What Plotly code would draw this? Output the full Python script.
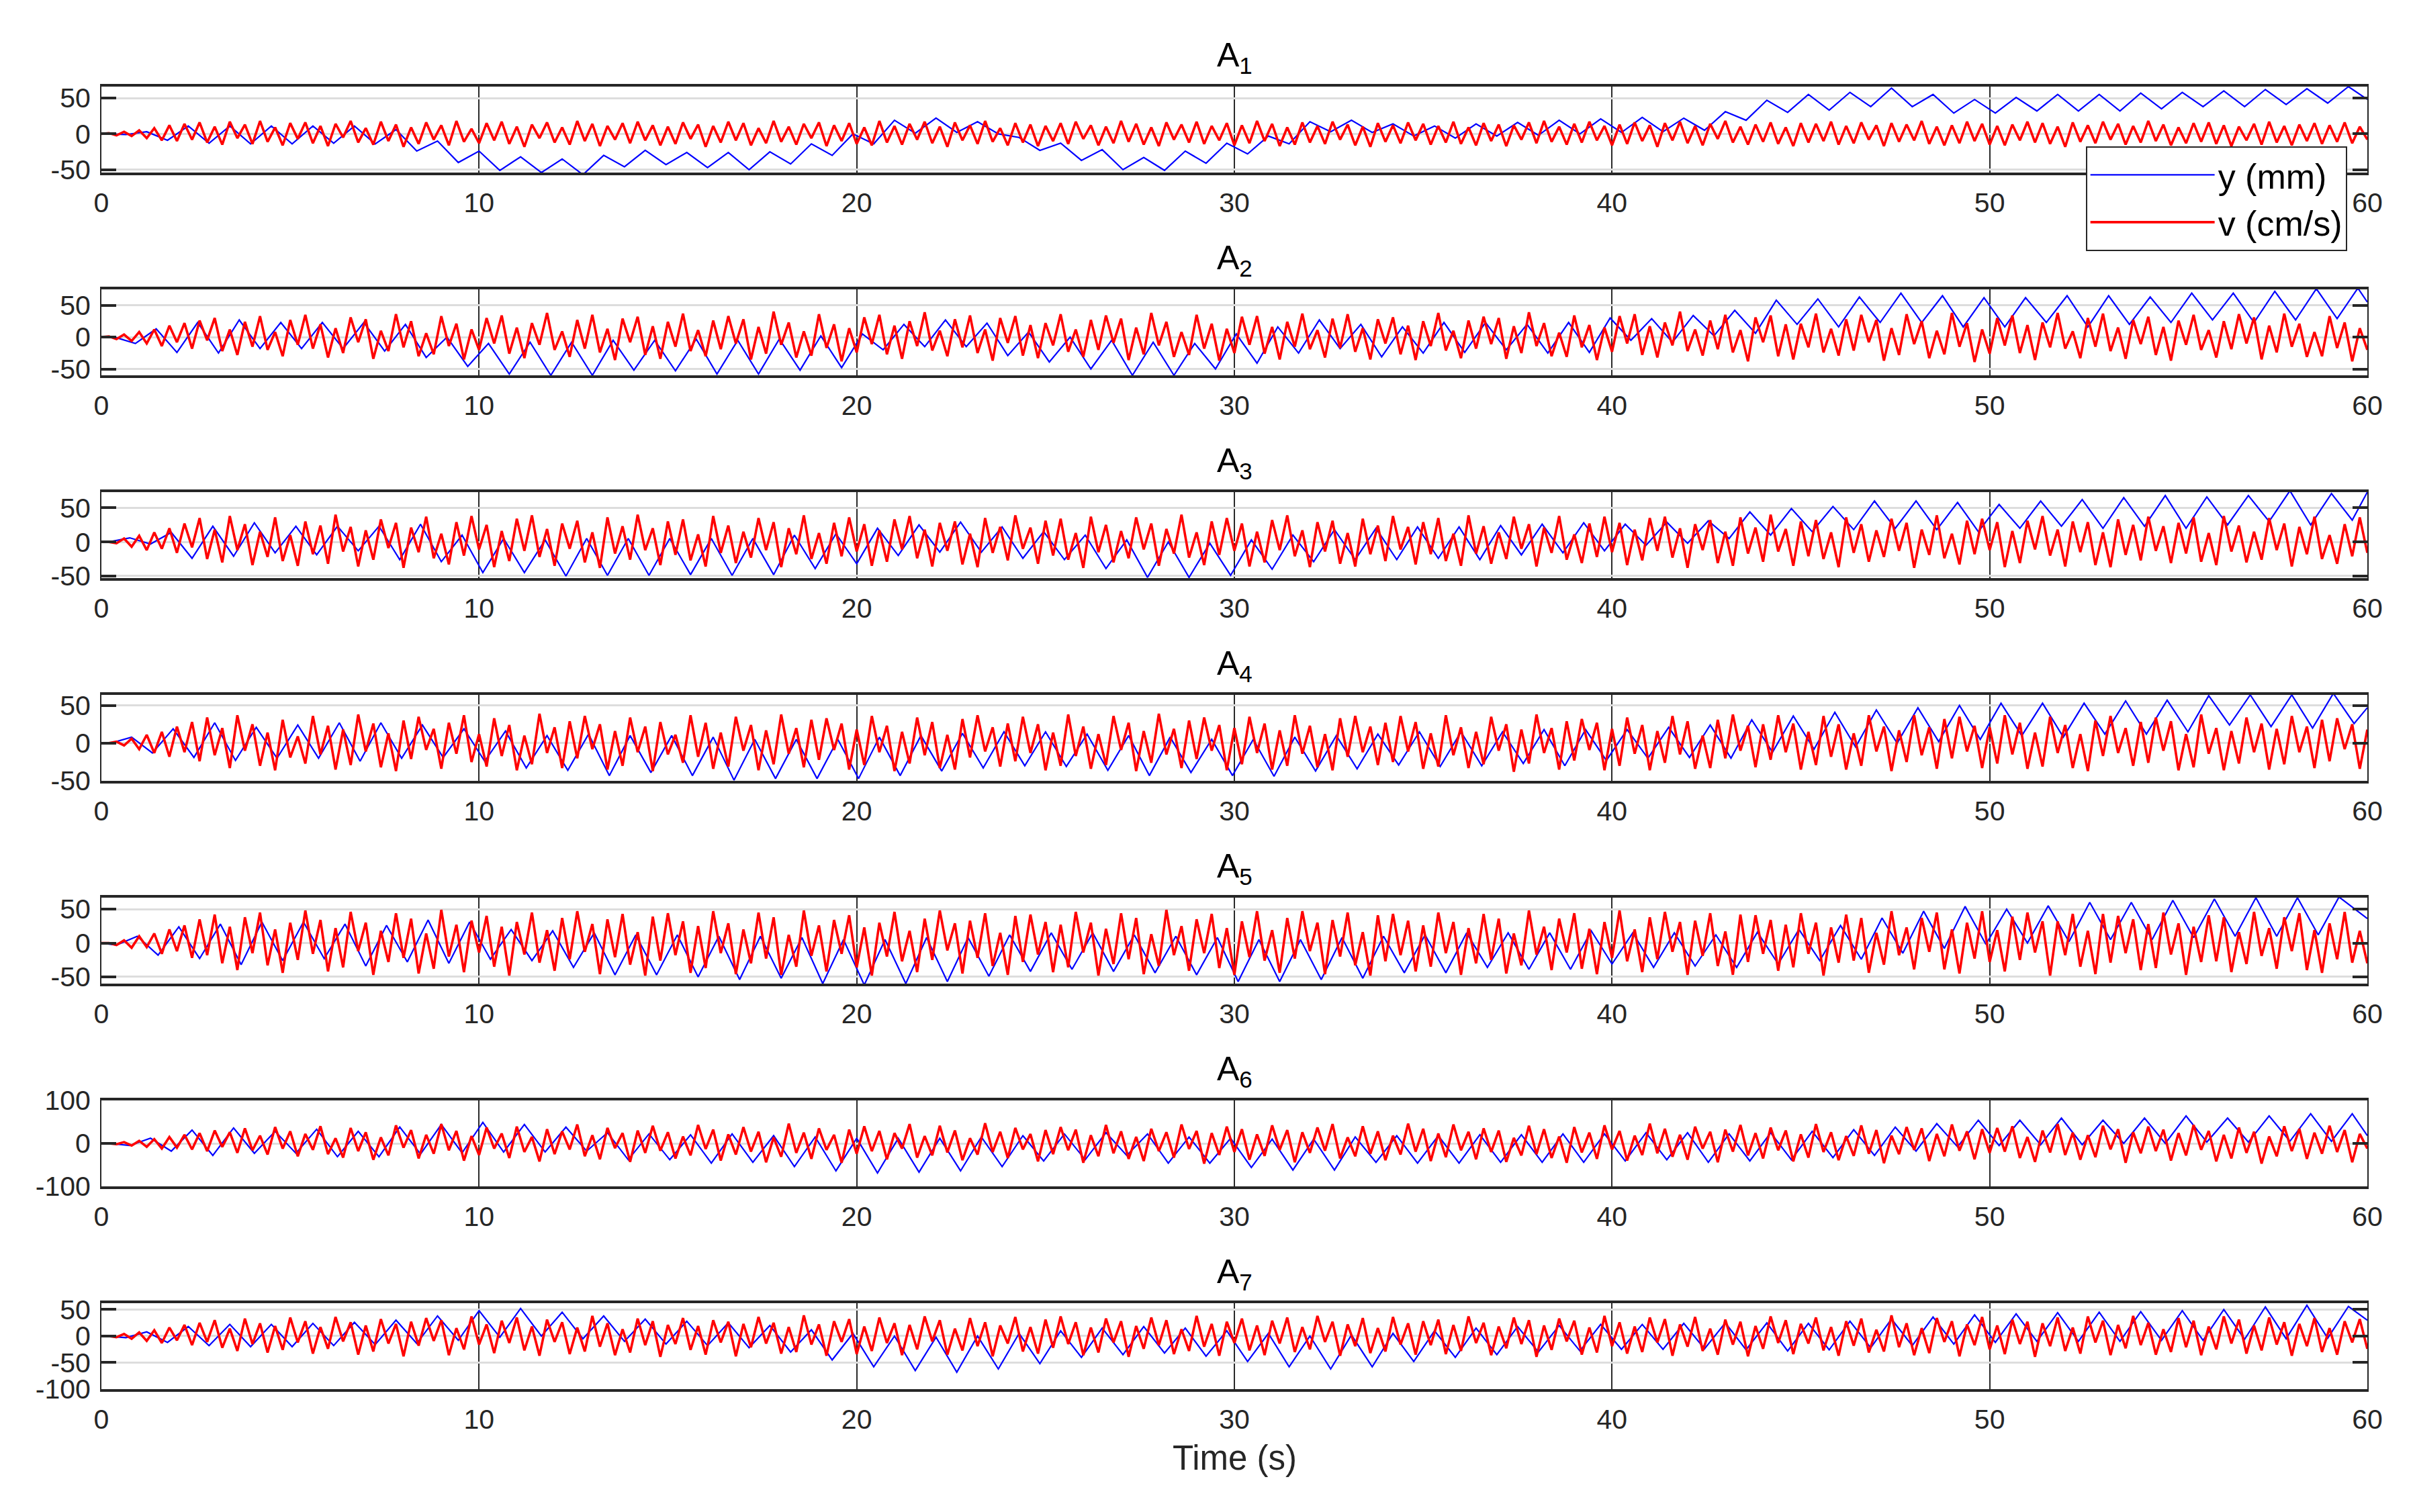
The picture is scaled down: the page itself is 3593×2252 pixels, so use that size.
import plotly.graph_objects as go

# ---------------- DATA ----------------
# Time grid
X_TICKS = [0, 10, 20, 30, 40, 50, 60]
Y_STEP = 0.55      # spacing between successive extrema of y (s)
V_DT = 0.2         # sampling step of v (s)

# y (mm): successive extrema, starting at time Y_T0
A1_Y_T0 = 0.10
A1_Y = [0, -1, 3, -9, 11, -13, 11, -14, 11, -14,
        11, -13, 11, -14, 6, -24, -10, -40, -24, -51,
        -32, -54, -35, -57, -30, -46, -23, -43, -26, -47,
        -26, -50, -25, -42, -14, -30, 0, -14, 19, 1,
        22, 2, 17, 0, -5, -23, -13, -37, -22, -50,
        -33, -51, -24, -41, -13, -28, -3, -14, 17, 3,
        19, 2, 14, -3, 11, -6, 14, -3, 16, -2,
        19, 0, 21, 2, 23, 3, 22, 5, 31, 19,
        47, 30, 55, 33, 58, 38, 64, 38, 55, 29,
        48, 29, 51, 32, 55, 32, 55, 32, 57, 35,
        58, 38, 60, 38, 62, 41, 63, 43, 66]
A1_Y_END = 48

A2_Y_T0 = 0.35
A2_Y = [0, -10, 13, -24, 23, -25, 27, -18, 23, -18,
        23, -18, 23, -22, 20, -32, 0, -46, -10, -58,
        -8, -60, -8, -60, -5, -52, -5, -53, -3, -58,
        -5, -58, -3, -52, 2, -48, 5, -20, 20, -15,
        27, -15, 22, -29, 8, -39, 0, -50, -5, -60,
        -8, -60, -10, -50, 5, -41, 16, -25, 27, -18,
        20, -31, 16, -25, 23, -24, 23, -20, 20, -25,
        23, -24, 30, -5, 29, -8, 34, 2, 42, 6,
        58, 20, 60, 16, 63, 23, 69, 23, 65, 16,
        62, 16, 62, 23, 65, 16, 65, 20, 63, 23,
        69, 27, 69, 23, 72, 27, 76, 29, 77]
A2_Y_END = 55

A3_Y_T0 = 0.20
A3_Y = [0, 6, -3, 14, -24, 23, -21, 28, -16, 23,
        -19, 23, -13, 23, -26, 26, -29, 10, -45, 5,
        -45, 3, -50, 5, -49, 5, -49, 5, -48, 5,
        -49, 5, -48, 10, -39, 12, -32, 20, -20, 25,
        -15, 29, -15, 22, -24, 15, -26, 10, -39, 3,
        -52, 0, -52, -2, -49, 3, -40, 10, -29, 18,
        -26, 20, -26, 22, -24, 22, -26, 24, -19, 26,
        -16, 28, -13, 26, -5, 29, -2, 31, 5, 44,
        10, 49, 15, 52, 18, 60, 20, 60, 18, 58,
        15, 55, 20, 60, 23, 62, 20, 65, 23, 68,
        20, 66, 25, 68, 30, 75, 25, 71, 32]
A3_Y_END = 73

A4_Y_T0 = 0.25
A4_Y = [0, 8, -13, 19, -19, 27, -23, 21, -20, 24,
        -20, 27, -24, 27, -20, 24, -19, 19, -24, 16,
        -33, 10, -36, 12, -43, 10, -39, 10, -43, 8,
        -49, 5, -47, 5, -47, 5, -47, 8, -43, 10,
        -37, 13, -33, 15, -30, 15, -31, 12, -36, 10,
        -43, 8, -39, 5, -43, 5, -44, 8, -37, 10,
        -34, 12, -29, 15, -31, 15, -30, 15, -27, 18,
        -30, 18, -23, 18, -20, 21, -19, 24, -20, 31,
        -12, 36, -8, 41, -5, 44, 0, 47, 2, 50,
        5, 53, 10, 53, 8, 53, 12, 56, 12, 57,
        15, 63, 24, 64, 22, 64, 20, 66, 26]
A4_Y_END = 47

A5_Y_T0 = 0.40
A5_Y = [-3, 10, -18, 24, -23, 28, -32, 31, -26, 31,
        -23, 28, -34, 26, -28, 34, -30, 31, -24, 20,
        -26, 18, -36, 15, -47, 12, -47, 12, -50, 10,
        -54, 10, -52, 8, -60, 5, -62, 5, -60, 8,
        -57, 8, -49, 12, -42, 15, -39, 15, -42, 12,
        -44, 10, -47, 8, -57, 5, -57, 5, -54, 8,
        -52, 10, -44, 12, -44, 15, -36, 15, -39, 15,
        -39, 18, -31, 15, -36, 15, -34, 12, -36, 16,
        -31, 20, -26, 26, -24, 37, -15, 47, -8, 54,
        -2, 50, 0, 55, 2, 60, 5, 60, 5, 63,
        8, 65, 10, 67, 10, 67, 12, 68]
A5_Y_END = 36

A6_Y_T0 = 0.20
A6_Y = [0, -5, 12, -18, 31, -28, 36, -23, 28, -23,
        33, -31, 28, -31, 38, -25, 44, -22, 49, -20,
        44, -20, 38, -18, 25, -38, 22, -38, 20, -46,
        22, -44, 18, -54, 15, -64, 12, -69, 12, -67,
        12, -64, 15, -54, 18, -41, 22, -38, 25, -28,
        22, -46, 15, -46, 12, -56, 10, -62, 10, -62,
        15, -44, 18, -46, 18, -46, 20, -44, 20, -44,
        22, -44, 22, -41, 25, -38, 25, -44, 22, -41,
        25, -38, 28, -33, 32, -28, 38, -18, 46, -8,
        54, -5, 54, -3, 59, -3, 54, 0, 59, 0,
        64, 3, 59, 3, 64, 5, 69, 5, 69]
A6_Y_END = 18

A7_Y_T0 = 0.10
A7_Y = [0, -3, 8, -12, 18, -18, 22, -20, 22, -20,
        24, -18, 26, -16, 30, -14, 38, -8, 48, -2,
        52, 0, 45, -5, 38, -10, 32, -15, 28, -18,
        25, -22, 20, -30, 12, -45, 5, -58, 0, -65,
        -2, -68, 0, -62, 5, -52, 10, -40, 15, -35,
        18, -32, 15, -38, 10, -48, 5, -58, 0, -62,
        2, -58, 5, -48, 10, -40, 15, -35, 18, -30,
        20, -28, 22, -25, 22, -25, 24, -24, 25, -26,
        25, -28, 24, -26, 28, -22, 32, -18, 36, -15,
        40, -12, 42, -10, 44, -10, 45, -10, 46, -8,
        48, -8, 50, -6, 55, -5, 58, -4, 56]
A7_Y_END = 30

# v (cm/s): samples every V_DT seconds from 0.2 s to 60 s
A1_V = [1, -2, 3, -3, 5, -6, 8, -9, 12, -10, 14, -8, 16, -12, 10, -15, 17, -6, 13, -14, 18, -11, 9, -16, 15,
        -7, 16, -13, 11, -17, 14, -5, 18, -12, 8, -15, 17, -10, 13, -18, 9, -14, 16, -8, 12, -16, 18, -11, 7, -13,
        15, -9, 17, -14, 10, -18, 13, -6, 16, -12, 9, -15, 18, -10, 14, -17, 11, -8, 15, -13, 17, -9, 12, -16, 10,
        -14, 16, -7, 13, -18, 11, -12, 17, -9, 15, -16, 8, -13, 18, -11, 10, -15, 14, -6, 16, -17, 12, -10, 15, -14,
        9, -16, 18, -12, 11, -15, 14, -8, 17, -13, 10, -18, 16, -9, 12, -14, 18, -11, 8, -16, 15, -12, 13, -17, 11,
        -10, 15, -14, 17, -7, 12, -16, 10, -13, 18, -11, 14, -15, 9, -17, 16, -8, 13, -12, 17, -14, 11, -9, 15, -16,
        12, -13, 18, -10, 14, -17, 9, -15, 16, -12, 11, -14, 17, -8, 13, -16, 10, -18, 15, -11, 12, -13, 16, -9, 14,
        -15, 11, -12, 17, -14, 9, -16, 15, -10, 13, -17, 12, -8, 16, -13, 18, -11, 10, -15, 14, -12, 17, -9, 11, -16,
        13, -14, 16, -10, 12, -18, 15, -9, 17, -13, 11, -16, 14, -7, 18, -12, 10, -15, 13, -11, 16, -14, 9, -17, 15,
        -12, 14, -10, 17, -15, 11, -13, 16, -8, 12, -17, 15, -11, 13, -9, 18, -14, 10, -16, 12, -13, 17, -10, 14, -15,
        11, -16, 13, -9, 17, -12, 15, -14, 10, -18, 16, -11, 12, -13, 17, -8, 14, -15, 11, -12, 18, -10, 13, -16, 9,
        -13, 15, -11, 16, -14, 12, -17, 10, -9, 14, -15, 17, -12, 11, -16, 13, -10, 15, -14, 12, -11, 16, -13, 10, -8]

A2_V = [1, -3, 4, -6, 8, -10, 12, -14, 18, -8, 22, -18, 26, -5, 30, -22, 12, -28, 24, -15, 33, -20, 8, -30, 27,
        -12, 35, -18, 20, -32, 14, -25, 31, -8, 28, -34, 10, -22, 36, -16, 25, -30, 6, -27, 33, -14, 21, -35, 12, -20,
        30, -10, 34, -26, 15, -33, 22, -12, 38, -20, 9, -31, 27, -18, 35, -24, 13, -36, 29, -8, 32, -28, 17, -34, 24,
        -15, 37, -22, 11, -30, 26, -19, 33, -10, 28, -35, 16, -26, 40, -12, 23, -32, 9, -29, 36, -17, 20, -38, 14, -24,
        31, -11, 35, -27, 18, -34, 25, -14, 39, -21, 10, -30, 28, -16, 34, -25, 12, -37, 30, -9, 33, -29, 19, -33, 22,
        -13, 36, -23, 12, -31, 27, -20, 34, -9, 29, -36, 15, -27, 38, -13, 24, -31, 8, -28, 35, -18, 21, -37, 13, -25,
        32, -12, 33, -26, 16, -35, 24, -15, 37, -19, 11, -32, 29, -17, 36, -23, 14, -35, 28, -10, 31, -27, 18, -36, 25,
        -14, 38, -21, 10, -33, 26, -18, 32, -11, 30, -34, 17, -25, 39, -14, 22, -30, 7, -31, 34, -16, 19, -36, 15, -23,
        33, -10, 36, -28, 17, -32, 23, -13, 40, -22, 12, -29, 26, -19, 35, -24, 11, -38, 31, -8, 34, -30, 20, -35, 21,
        -16, 37, -24, 13, -29, 28, -21, 35, -8, 27, -37, 14, -28, 36, -11, 25, -33, 10, -27, 38, -15, 22, -39, 12, -26,
        30, -13, 34, -25, 19, -36, 23, -16, 38, -18, 9, -33, 30, -15, 37, -22, 15, -34, 27, -11, 32, -28, 16, -37, 26,
        -12, 35, -20, 11, -32, 25, -19, 36, -10, 31, -35, 18, -24, 37, -15, 21, -31, 8, -30, 33, -17, 23, -38, 14, -20]

A3_V = [0, -2, 5, -7, 9, -12, 14, -10, 20, -16, 27, -8, 35, -25, 18, -30, 38, -12, 26, -34, 15, -22, 36, -28, 10,
        -35, 30, -18, 24, -32, 40, -14, 22, -36, 17, -26, 33, -9, 28, -38, 21, -15, 37, -24, 12, -33, 29, -20, 38, -11,
        25, -37, 16, -28, 34, -13, 39, -22, 19, -35, 27, -10, 31, -30, 14, -38, 36, -17, 23, -26, 40, -12, 20, -34, 30,
        -19, 33, -27, 11, -36, 38, -16, 24, -31, 15, -23, 35, -12, 29, -37, 20, -18, 39, -25, 13, -32, 28, -21, 36, -14,
        26, -35, 17, -29, 33, -11, 38, -24, 18, -36, 28, -13, 30, -33, 12, -37, 35, -16, 22, -27, 39, -10, 21, -32, 31,
        -20, 34, -26, 13, -38, 37, -15, 25, -30, 16, -24, 36, -11, 27, -35, 19, -17, 40, -23, 14, -34, 30, -19, 35, -13,
        27, -36, 15, -30, 32, -12, 39, -21, 17, -37, 29, -14, 31, -32, 13, -36, 34, -18, 24, -28, 38, -11, 22, -33, 29,
        -18, 35, -28, 12, -35, 39, -17, 23, -32, 14, -25, 37, -10, 26, -36, 21, -16, 38, -26, 11, -31, 27, -22, 37, -15,
        28, -34, 18, -27, 35, -13, 37, -23, 20, -38, 26, -12, 32, -31, 15, -35, 36, -17, 21, -29, 40, -14, 19, -35, 30,
        -21, 32, -25, 14, -37, 36, -16, 26, -29, 17, -22, 34, -13, 28, -38, 18, -19, 39, -24, 12, -33, 31, -18, 34, -12,
        29, -37, 16, -31, 31, -11, 38, -20, 18, -36, 30, -15, 29, -34, 14, -37, 33, -19, 25, -27, 37, -13, 23, -31, 28,
        -17, 36, -29, 13, -34, 38, -14, 24, -30, 15, -26, 35, -12, 27, -36, 22, -18, 37, -25, 10, -32, 26, -21, 36, -16]

A4_V = [0, 2, -3, 6, -8, 11, -13, 15, -18, 22, -12, 28, -24, 34, -16, 20, -33, 37, -10, 25, -30, 14, -36, 31, -19,
        9, -27, 36, -15, 23, -35, 18, -29, 38, -11, 26, -32, 13, -37, 30, -21, 35, -9, 19, -34, 27, -14, 37, -25, 12,
        -31, 33, -17, 24, -36, 10, -28, 39, -13, 21, -33, 29, -20, 36, -8, 25, -35, 16, -30, 34, -12, 22, -37, 28, -15,
        11, -26, 37, -18, 27, -34, 14, -31, 35, -10, 24, -36, 17, -28, 38, -14, 20, -32, 31, -22, 33, -9, 26, -35, 18,
        -29, 36, -12, 23, -37, 15, -27, 34, -16, 28, -33, 11, -35, 32, -19, 37, -11, 21, -31, 26, -24, 35, -13, 25, -36,
        14, -30, 38, -17, 22, -34, 12, -29, 36, -9, 27, -37, 16, -26, 39, -15, 19, -33, 30, -21, 34, -10, 24, -36, 20,
        -28, 35, -13, 26, -35, 17, -30, 37, -14, 23, -32, 12, -36, 33, -18, 36, -12, 22, -29, 27, -25, 36, -11, 28, -34,
        13, -31, 37, -16, 21, -33, 15, -28, 35, -10, 25, -38, 18, -27, 38, -13, 20, -35, 29, -23, 32, -9, 27, -36, 19,
        -30, 34, -14, 24, -36, 16, -26, 36, -15, 29, -34, 10, -33, 31, -20, 38, -10, 23, -32, 25, -22, 37, -12, 26, -35,
        15, -29, 36, -18, 25, -35, 13, -30, 37, -11, 22, -37, 17, -25, 37, -16, 21, -34, 32, -20, 35, -11, 23, -33, 21,
        -27, 37, -15, 27, -34, 14, -31, 35, -13, 24, -33, 12, -37, 30, -17, 36, -13, 20, -30, 28, -26, 34, -10, 29, -36,
        12, -32, 38, -14, 20, -36, 16, -27, 34, -12, 26, -35, 19, -28, 36, -12, 22, -33, 31, -24, 33, -8, 25, -34, 18]

A5_V = [0, -3, 4, -7, 10, -6, 14, -16, 20, -12, 26, -22, 35, -18, 42, -30, 24, -40, 38, -15, 45, -33, 20, -44, 30,
        -25, 48, -16, 34, -42, 22, -36, 46, -12, 30, -47, 18, -28, 44, -22, 36, -45, 14, -38, 49, -20, 27, -43, 33, -14,
        40, -35, 24, -48, 31, -17, 45, -29, 19, -41, 37, -24, 47, -13, 28, -46, 35, -21, 43, -32, 16, -48, 39, -26, 44,
        -18, 32, -44, 25, -37, 47, -15, 29, -46, 20, -30, 45, -23, 38, -47, 12, -35, 48, -19, 26, -42, 34, -16, 41, -36,
        23, -48, 30, -20, 46, -27, 18, -43, 36, -25, 48, -11, 29, -45, 33, -22, 44, -34, 15, -47, 40, -28, 42, -17, 31,
        -43, 27, -36, 46, -14, 30, -48, 21, -31, 44, -24, 37, -46, 13, -34, 49, -18, 25, -41, 35, -15, 43, -37, 22, -47,
        32, -21, 47, -26, 19, -44, 37, -23, 47, -12, 30, -46, 34, -20, 45, -33, 16, -48, 41, -27, 43, -18, 33, -42, 26,
        -35, 45, -15, 31, -47, 22, -30, 43, -25, 36, -45, 14, -33, 48, -17, 24, -40, 36, -14, 44, -38, 21, -46, 31, -22,
        48, -27, 20, -43, 38, -24, 46, -13, 31, -47, 33, -19, 44, -34, 17, -47, 42, -28, 41, -16, 34, -41, 27, -36, 44,
        -16, 30, -48, 23, -29, 42, -26, 37, -44, 15, -32, 47, -18, 23, -39, 37, -13, 45, -39, 20, -45, 30, -23, 47, -28,
        19, -42, 39, -25, 45, -14, 32, -48, 32, -18, 43, -35, 18, -46, 43, -29, 40, -15, 35, -40, 28, -37, 45, -17, 29,
        -47, 24, -28, 41, -27, 38, -43, 16, -31, 46, -19, 22, -38, 38, -12, 44, -40, 19, -44, 29, -24, 46, -29, 18, -30]

A6_V = [0, -2, 3, -5, 6, -8, 10, -12, 15, -10, 20, -14, 24, -18, 30, -8, 26, -22, 35, -16, 18, -26, 38, -12, 28,
        -30, 22, -15, 40, -25, 12, -33, 36, -18, 26, -38, 14, -28, 42, -10, 31, -35, 20, -24, 45, -16, 29, -40, 17, -27,
        37, -12, 23, -34, 39, -20, 15, -42, 33, -25, 28, -14, 44, -30, 19, -37, 36, -11, 24, -43, 30, -22, 41, -17, 26,
        -35, 16, -28, 43, -13, 32, -40, 21, -26, 38, -19, 27, -44, 14, -31, 46, -22, 25, -36, 35, -15, 20, -45, 32, -24,
        40, -18, 29, -37, 24, -12, 45, -33, 17, -28, 41, -21, 30, -39, 12, -26, 47, -20, 27, -34, 36, -14, 22, -42, 31,
        -25, 38, -16, 32, -45, 19, -30, 43, -23, 28, -36, 15, -41, 34, -18, 26, -33, 44, -13, 29, -47, 24, -27, 39, -20,
        33, -38, 21, -29, 42, -15, 31, -44, 26, -22, 37, -17, 45, -35, 14, -30, 40, -24, 28, -39, 18, -26, 46, -19, 34,
        -41, 23, -32, 44, -16, 27, -37, 35, -20, 30, -43, 13, -28, 41, -25, 33, -34, 16, -45, 38, -21, 25, -36, 42, -14,
        29, -40, 18, -27, 46, -23, 34, -31, 20, -38, 39, -12, 27, -44, 32, -19, 43, -28, 24, -35, 37, -16, 30, -42, 21,
        -33, 45, -20, 26, -39, 17, -29, 42, -24, 31, -46, 18, -25, 38, -15, 35, -41, 22, -30, 44, -17, 28, -37, 33, -22,
        36, -19, 40, -34, 15, -43, 30, -21, 45, -27, 25, -38, 19, -32, 41, -14, 33, -45, 26, -23, 39, -18, 32, -40, 24,
        -28, 43, -15, 29, -42, 20, -35, 37, -22, 27, -47, 16, -30, 40, -18, 34, -36, 25, -24, 41, -20, 31, -44, 22, -12]

A7_V = [0, -2, 4, -5, 7, -9, 11, -13, 16, -8, 21, -17, 25, -11, 30, -22, 14, -28, 33, -15, 24, -31, 19, -26, 35,
        -12, 28, -33, 17, -24, 36, -10, 26, -35, 20, -29, 32, -14, 23, -38, 27, -18, 34, -9, 30, -36, 15, -25, 37, -16,
        22, -32, 29, -13, 35, -27, 18, -37, 31, -11, 26, -34, 16, -29, 38, -20, 24, -36, 13, -31, 33, -17, 28, -39, 21,
        -15, 34, -26, 19, -35, 30, -12, 27, -38, 23, -21, 36, -14, 25, -33, 17, -30, 39, -16, 22, -37, 28, -11, 32, -34,
        18, -28, 35, -13, 24, -36, 21, -25, 37, -10, 30, -35, 14, -27, 34, -19, 26, -38, 20, -14, 36, -29, 17, -33, 31,
        -22, 37, -15, 26, -36, 16, -31, 33, -12, 28, -39, 19, -24, 35, -17, 30, -34, 13, -28, 38, -20, 23, -37, 27, -13,
        33, -27, 20, -36, 29, -14, 35, -30, 17, -25, 38, -11, 27, -37, 22, -19, 34, -32, 15, -29, 36, -16, 24, -35, 28,
        -17, 31, -34, 21, -28, 37, -13, 25, -36, 18, -23, 35, -15, 30, -39, 20, -26, 33, -10, 29, -35, 16, -31, 38, -19,
        26, -33, 18, -30, 35, -12, 32, -37, 22, -20, 36, -28, 14, -35, 31, -16, 27, -38, 19, -24, 37, -13, 30, -34, 23,
        -14, 35, -27, 17, -37, 28, -18, 33, -31, 12, -29, 39, -21, 24, -36, 15, -32, 34, -11, 28, -38, 22, -17, 36, -25,
        20, -34, 31, -15, 27, -39, 24, -19, 35, -28, 16, -33, 37, -12, 29, -36, 21, -23, 38, -17, 25, -35, 13, -30, 34,
        -21, 29, -36, 18, -25, 37, -14, 31, -33, 20, -27, 35, -16, 26, -37, 23, -19, 34, -30, 15, -35, 28, -12, 32, -24]

PANEL_NAMES = ["A<sub>1</sub>", "A<sub>2</sub>", "A<sub>3</sub>", "A<sub>4</sub>",
               "A<sub>5</sub>", "A<sub>6</sub>", "A<sub>7</sub>"]
Y_SERIES = [(A1_Y_T0, A1_Y, A1_Y_END), (A2_Y_T0, A2_Y, A2_Y_END), (A3_Y_T0, A3_Y, A3_Y_END),
            (A4_Y_T0, A4_Y, A4_Y_END), (A5_Y_T0, A5_Y, A5_Y_END), (A6_Y_T0, A6_Y, A6_Y_END),
            (A7_Y_T0, A7_Y, A7_Y_END)]
V_SERIES = [A1_V, A2_V, A3_V, A4_V, A5_V, A6_V, A7_V]
Y_RANGES = [[-54, 66], [-60, 75], [-53, 73], [-50, 64], [-60, 67], [-100, 100], [-100, 62]]
Y_TICKS = [[-50, 0, 50], [-50, 0, 50], [-50, 0, 50], [-50, 0, 50], [-50, 0, 50],
           [-100, 0, 100], [-100, -50, 0, 50]]

# ---------------- LAYOUT ----------------
W, H = 3593, 2252
ML, MR = 151, 68
TOP0, PITCH, AXH = 129, 302, 128
PLOT_BOTTOM = TOP0 + 6 * PITCH + AXH
PH = PLOT_BOTTOM - TOP0
FONT = "Liberation Sans, Arial, Helvetica, sans-serif"
AX_COLOR = "#262626"
TICK_SIZE = 41

fig = go.Figure()
annotations = []
layout_axes = {}

for i in range(7):
    n = i + 1
    t0, ext, yend = Y_SERIES[i]
    ty = [0.0] + [t0 + Y_STEP * k for k in range(len(ext))] + [60.0]
    yy = [0] + ext + [yend]
    vv = [0] + V_SERIES[i]
    tv = [round(V_DT * k, 3) for k in range(len(vv))]

    xa = "x" if n == 1 else f"x{n}"
    ya = "y" if n == 1 else f"y{n}"
    fig.add_trace(go.Scatter(x=ty, y=yy, mode="lines", name="y (mm)",
                             line=dict(color="#0000FF", width=2.2),
                             xaxis=xa, yaxis=ya, showlegend=(n == 1)))
    fig.add_trace(go.Scatter(x=tv, y=vv, mode="lines", name="v (cm/s)",
                             line=dict(color="#FF0000", width=3.6),
                             xaxis=xa, yaxis=ya, showlegend=(n == 1)))

    top = TOP0 + i * PITCH
    bot = top + AXH
    d0 = (PLOT_BOTTOM - bot) / PH
    d1 = (PLOT_BOTTOM - top) / PH
    xkey = "xaxis" if n == 1 else f"xaxis{n}"
    ykey = "yaxis" if n == 1 else f"yaxis{n}"
    layout_axes[xkey] = dict(
        domain=[0, 1], anchor=ya, range=[0, 60],
        tickvals=X_TICKS, ticktext=[str(v) for v in X_TICKS],
        showgrid=True, gridcolor="#2a2a2a", gridwidth=1.5,
        zeroline=False, showline=True, linecolor=AX_COLOR, linewidth=4, mirror=True,
        ticks="", ticklabelstandoff=6,
        tickfont=dict(family=FONT, size=TICK_SIZE, color=AX_COLOR),
    )
    layout_axes[ykey] = dict(
        domain=[d0, d1], anchor=xa, range=Y_RANGES[i],
        tickvals=Y_TICKS[i], ticktext=[str(v) for v in Y_TICKS[i]],
        showgrid=True, gridcolor="#dddddd", gridwidth=3,
        zeroline=False, showline=True, linecolor=AX_COLOR, linewidth=2, mirror="ticks",
        ticks="inside", ticklen=22, tickwidth=4, tickcolor=AX_COLOR,
        ticklabelstandoff=6,
        tickfont=dict(family=FONT, size=TICK_SIZE, color=AX_COLOR),
    )
    annotations.append(dict(text=PANEL_NAMES[i], x=0.5, y=d1, xref="paper", yref="paper",
                            xanchor="center", yanchor="bottom", yshift=10, showarrow=False,
                            font=dict(family=FONT, size=50, color="#000000")))

annotations.append(dict(text="Time (s)", x=0.5, y=0, xref="paper", yref="paper",
                        xanchor="center", yanchor="middle", yshift=-102, showarrow=False,
                        font=dict(family=FONT, size=51, color=AX_COLOR)))

fig.update_layout(
    width=W, height=H,
    margin=dict(l=ML, r=MR, t=TOP0, b=H - PLOT_BOTTOM),
    paper_bgcolor="white", plot_bgcolor="white",
    annotations=annotations,
    legend=dict(x=0.991, xanchor="right", y=(PLOT_BOTTOM - 218) / PH, yanchor="top",
                bgcolor="white", bordercolor=AX_COLOR, borderwidth=2,
                font=dict(family=FONT, size=52, color="#000000"),
                itemwidth=185, tracegroupgap=0),
    **layout_axes,
)

fig.write_html("out.html", config={"displayModeBar": False},
               post_script="document.body.style.margin='0px';")
